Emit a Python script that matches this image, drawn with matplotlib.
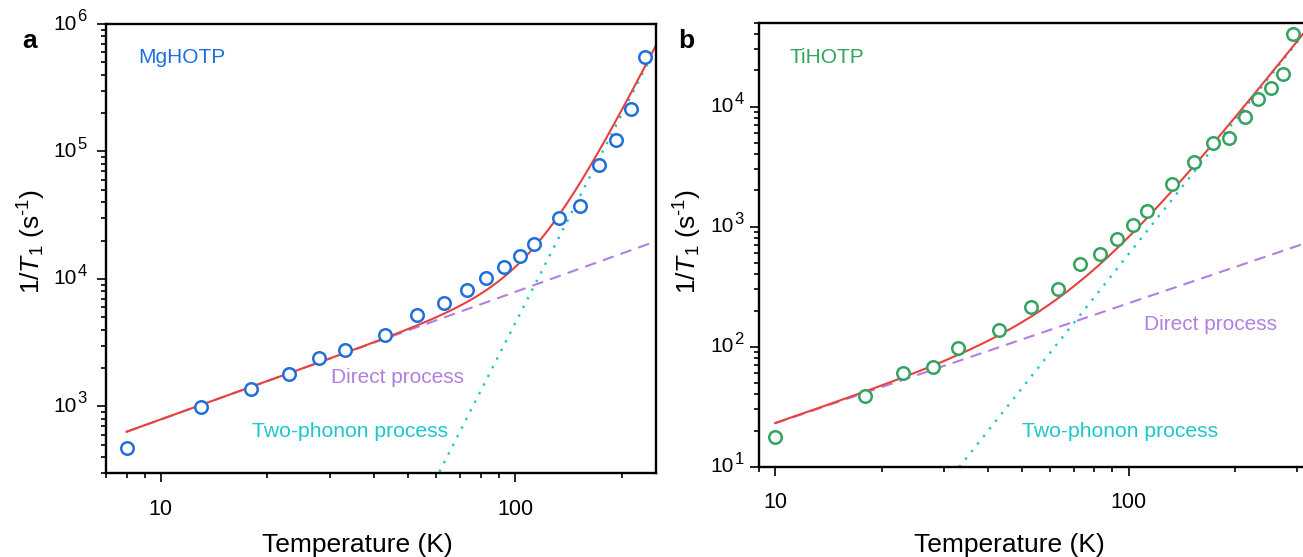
import matplotlib
matplotlib.use("Agg")
import matplotlib.pyplot as plt
import numpy as np
from matplotlib.ticker import LogLocator, NullFormatter, FixedLocator, FixedFormatter
from matplotlib.transforms import blended_transform_factory, ScaledTranslation

plt.rcParams['font.family'] = ['Liberation Sans', 'DejaVu Sans']
plt.rcParams['mathtext.fontset'] = 'custom'
plt.rcParams['mathtext.rm'] = 'Liberation Sans'
plt.rcParams['mathtext.it'] = 'Liberation Sans:italic'
plt.rcParams['mathtext.bf'] = 'Liberation Sans:bold'

# measured spin-lattice relaxation rates
temp_mg = [8, 13, 18, 23, 28, 33, 43, 53, 63, 73, 83, 93, 103, 113,
           133, 153, 173, 193, 213, 233]
rate_mg = [470, 990, 1380, 1810, 2380, 2790, 3660, 5250, 6520, 8240,
           10200, 12300, 15200, 18900, 30200, 37500, 78600, 123000,
           216000, 551000]

temp_ti = [10, 18, 23, 28, 33, 43, 53, 63, 73, 83, 93, 103, 113,
           133, 153, 173, 193, 213, 233, 253, 273, 293]
rate_ti = [17.8, 39, 60, 67.7, 98, 137, 214, 302, 486, 592, 786, 1027,
           1346, 2280, 3436, 4951, 5454, 8150, 11660, 14230, 18720, 40400]

# fit parameters: direct = A*T, two-phonon = B*T^n
fit_mg = [79.0, 10**-7.25, 5.45]
fit_ti = [2.3, 10**-4.63, 3.7]

# decade exponents shown on the y axes
exp_mg = [3, 4, 5, 6]
exp_ti = [1, 2, 3, 4]

c_red = '#e8413d'
c_direct = '#b27fe0'
c_two = '#1dc6cc'
c_mg = '#1f6fdc'
c_ti = '#33a35f'

fig = plt.figure(figsize=(13.03, 5.57), dpi=100)
ax1 = fig.add_axes([106 / 1303, 1 - 473 / 557, 550 / 1303, 449 / 557])
ax2 = fig.add_axes([759 / 1303, 1 - 466.7 / 557, 548 / 1303, 444 / 557])


def decade_labels(ax, exps, off):
    # "10" plus a raised exponent, drawn left of each major y tick
    base = blended_transform_factory(ax.transAxes, ax.transData)
    for e in exps:
        t1 = base + ScaledTranslation(-off / 100, 0, fig.dpi_scale_trans)
        ax.text(0, 10.0 ** e, '10', transform=t1, ha='right', va='center',
                fontsize=15)
        t2 = base + ScaledTranslation((0.6 - off) / 100, 7.4 / 100, fig.dpi_scale_trans)
        ax.text(0, 10.0 ** e, str(e), transform=t2, ha='left', va='center',
                fontsize=12)


def draw_panel(ax, temp, rate, fit, color, xlim, ylim, exps, off):
    A, B, n = fit
    t = np.logspace(np.log10(temp[0]), np.log10(xlim[1]), 300)
    direct = A * t
    two = B * t ** n
    ax.plot(t, direct, color=c_direct, lw=1.5, ls=(0, (5.5, 3.5)), zorder=1)
    ax.plot(t, two, color=c_two, lw=1.7, ls=(0, (1, 3.1)), zorder=1)
    ax.plot(t, direct + two, color=c_red, lw=1.5, zorder=2)
    ax.plot(temp, rate, 'o', ms=9, mfc='white', mec=color, mew=1.8,
            zorder=3, clip_on=False)
    ax.set_xscale('log')
    ax.set_yscale('log')
    ax.set_xlim(*xlim)
    ax.set_ylim(*ylim)
    ax.xaxis.set_major_locator(FixedLocator([10, 100]))
    ax.xaxis.set_major_formatter(FixedFormatter(['10', '100']))
    ax.xaxis.set_minor_locator(LogLocator(base=10, subs=np.arange(2, 10)))
    ax.xaxis.set_minor_formatter(NullFormatter())
    ax.yaxis.set_major_locator(FixedLocator([10.0 ** e for e in exps]))
    ax.yaxis.set_major_formatter(NullFormatter())
    ax.yaxis.set_minor_locator(LogLocator(base=10, subs=np.arange(2, 10), numticks=20))
    ax.yaxis.set_minor_formatter(NullFormatter())
    for s in ax.spines.values():
        s.set_linewidth(1.7)
    ax.tick_params(which='both', direction='out', top=False, right=False, width=1.2)
    ax.tick_params(which='major', length=6.5, labelsize=15.5)
    ax.tick_params(axis='x', which='major', pad=12)
    ax.tick_params(which='minor', length=3.5)
    ax.set_xlabel('Temperature (K)', fontsize=19)
    ax.set_ylabel(r'1/$\mathit{T}_1$ (s$^{\text{-1}}$)', fontsize=19)
    decade_labels(ax, exps, off)


draw_panel(ax1, temp_mg, rate_mg, fit_mg, c_mg, (7, 250), (300, 1e6), exp_mg, 29.3)
draw_panel(ax2, temp_ti, rate_ti, fit_ti, c_ti, (9, 320), (10, 5e4), exp_ti, 25.3)

ax1.xaxis.set_label_coords(0.457, -0.134)
ax2.xaxis.set_label_coords(0.456, -0.149)
ax1.yaxis.set_label_coords(-0.106, 0.516)
ax2.yaxis.set_label_coords(-0.100, 0.507)


def ftext(x, y, s, **kw):
    fig.text(x / 1303, 1 - y / 557, s, va='baseline', **kw)


ftext(22, 48, 'a', fontsize=19, fontweight='bold')
ftext(678, 48, 'b', fontsize=19, fontweight='bold')
ftext(138, 63, 'MgHOTP', fontsize=15, color=c_mg)
ftext(789, 63, 'TiHOTP', fontsize=15, color=c_ti)
ftext(331, 383, 'Direct process', fontsize=15, color=c_direct)
ftext(252, 437, 'Two-phonon process', fontsize=15.2, color=c_two)
ftext(1144, 330, 'Direct process', fontsize=15, color=c_direct)
ftext(1022, 437, 'Two-phonon process', fontsize=15.2, color=c_two)

fig.savefig('out.png', dpi=100)
